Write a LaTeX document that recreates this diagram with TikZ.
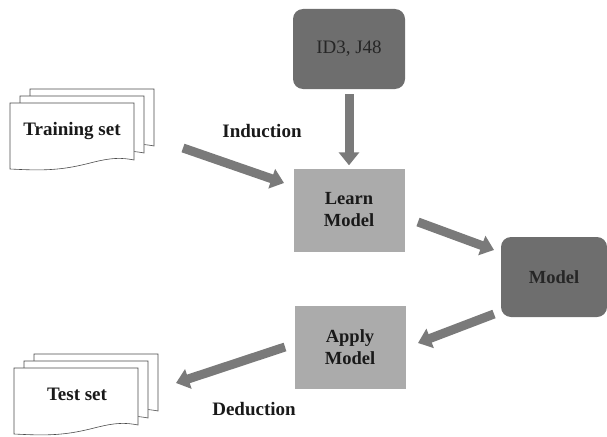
\documentclass[tikz,border=0pt]{standalone}
\usepackage{fontspec}
\setmainfont{Liberation Serif}
\usetikzlibrary{arrows.meta}
\definecolor{darkbox}{HTML}{6E6E6E}
\definecolor{lightbox}{HTML}{ABABAB}
\definecolor{arrowgray}{HTML}{7A7A7A}
\tikzset{
  docpage/.style={draw=black!70,line width=0.6pt,fill=white},
  darkstyle/.style={draw=none,fill=darkbox,rounded corners=10pt,minimum width=112pt,minimum height=80pt,font=\fontsize{19}{22}\selectfont,text=black!85},
  lightstyle/.style={draw=none,fill=lightbox,minimum width=111pt,minimum height=83pt,font=\bfseries\fontsize{18.5}{22}\selectfont,align=center,text=black!90},
  bigarrow/.style={draw=arrowgray,line width=9pt,-{Triangle[length=13pt,width=20pt]}},
  lbl/.style={font=\bfseries\fontsize{19}{22}\selectfont,text=black!90},
  pics/docstack/.style={code={
    \foreach \dx/\dy in {20/-14,10/-7,0/0}{
      \path[docpage,shift={(\dx,\dy)}] (0,0) -- (124,0) -- (124,57)
        .. controls (100,52) and (85,60) .. (62,64)
        .. controls (40,68) and (20,67) .. (0,66) -- cycle;
    }
  }}
}
\begin{document}
\begin{tikzpicture}[x=1pt,y=-1pt]
\useasboundingbox (0,0) rectangle (607,436);
% documents
\pic at (10,103) {docstack};
\pic at (14,368) {docstack};
\node[lbl] (train) at (72,131) {Training set};
\node[lbl] (test) at (77,394) {Test set};
% boxes
\node[darkstyle] (id3) at (349,49) {ID3, J48};
\node[lightstyle] (learn) at (349,210) {Learn\\Model};
\node[darkstyle,minimum width=106pt,minimum height=80pt,font=\bfseries\fontsize{18.5}{22}\selectfont] (model) at (554,277) {Model};
\node[lightstyle] (apply) at (350,347) {Apply\\Model};
% labels
\node[lbl] (ind) at (262,131) {Induction};
\node[lbl] (ded) at (254,409) {Deduction};
% arrow end coordinates
\coordinate (a1s) at (183,148);
\coordinate (a1e) at (284,183);
\coordinate (a3s) at (418,222);
\coordinate (a3e) at (494,250);
\coordinate (a4s) at (494,314);
\coordinate (a4e) at (418,343);
\coordinate (a5s) at (285,347);
\coordinate (a5e) at (176,383);
% arrows
\draw[bigarrow,shorten <=5pt,shorten >=3pt] (id3.south) -- (learn.north);
\draw[bigarrow] (a1s) -- (a1e);
\draw[bigarrow] (a3s) -- (a3e);
\draw[bigarrow] (a4s) -- (a4e);
\draw[bigarrow] (a5s) -- (a5e);
\end{tikzpicture}
\end{document}
